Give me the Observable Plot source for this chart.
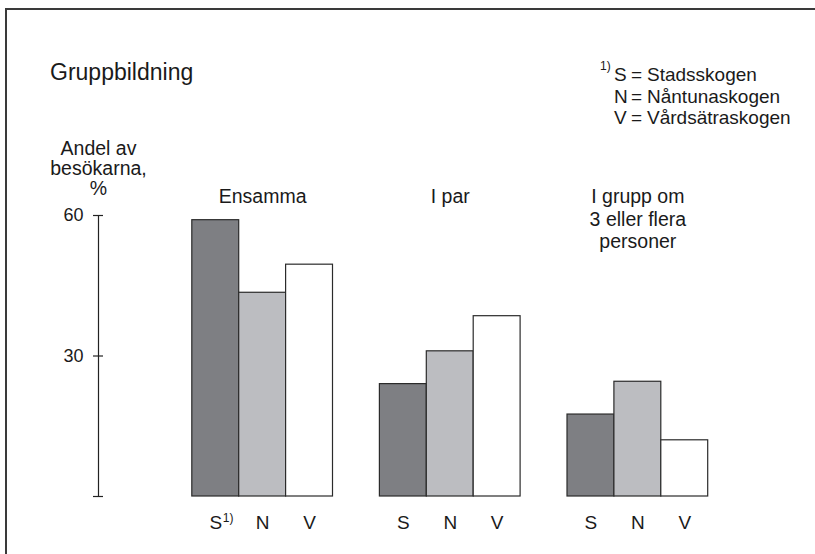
<!DOCTYPE html>
<html>
<head>
<meta charset="utf-8">
<script src="https://cdn.jsdelivr.net/npm/d3@7"></script>
<script src="https://cdn.jsdelivr.net/npm/@observablehq/plot@0.6"></script>
<style>
  html, body { margin: 0; padding: 0; background: #fff; }
  #wrap { position: relative; width: 815px; height: 554px; overflow: hidden;
          font-family: "Liberation Sans", Arial, Helvetica, sans-serif; color: #1a1a1a; }
  #border { position: absolute; left: 5px; top: 8px; right: -10px; bottom: -10px;
            border-top: 2px solid #3a3a3a; border-left: 2px solid #3a3a3a; }
  #title { position: absolute; left: 50px; top: 59px; font-size: 23px; line-height: 1.15; white-space: nowrap; }
  #legend { position: absolute; left: 600px; top: 64px; font-size: 19px; line-height: 21.7px; }
  #legend .row { display: grid; grid-template-columns: 14px 17px 16px auto; white-space: nowrap; }
  #legend .sup { font-size: 12px; position: relative; top: -8px; }
  #chart { position: absolute; left: 0; top: 0; }
</style>
</head>
<body>
<div id="wrap">
  <div id="border"></div>
  <div id="chart"></div>
  <div id="title"></div>
  <div id="legend"></div>
</div>
<script>
// ---- data ----
const titleText = "Gruppbildning";
const yLabel = "Andel av\nbesökarna,\n%";
const groups = ["Ensamma", "I par", "I grupp om\n3 eller flera\npersoner"];
const sites = ["S", "N", "V"];
const siteNames = ["Stadsskogen", "Nåntunaskogen", "Vårdsätraskogen"];
const ensamma = [59, 43.5, 49.5];
const iPar = [24, 31, 38.5];
const iGrupp = [17.5, 24.5, 12];
const yTicks = [0, 30, 60];
const yTickLabels = ["", "30", "60"];
const footnote = "1)";
const siteColors = ["#7e7f83", "#bcbdc1", "#ffffff"];

// ---- derived table ----
const seriesByGroup = [ensamma, iPar, iGrupp];
const data = groups.flatMap((g, gi) => sites.map((s, si) => ({
  key: `${gi}-${s}`, site: s, value: seriesByGroup[gi][si], color: siteColors[si]
})));
const xDomain = [];
groups.forEach((g, gi) => {
  sites.forEach(s => xDomain.push(`${gi}-${s}`));
  if (gi < groups.length - 1) xDomain.push(`gap${gi}`);
});

const W = 815, H = 554, mL = 98, mR = 13.5, mT = 215, mB = 58;
const frameW = W - mL - mR;
const font = "'Liberation Sans', Arial, Helvetica, sans-serif";

const chart = Plot.plot({
  width: W, height: H,
  marginTop: mT, marginBottom: mB, marginLeft: mL, marginRight: mR,
  style: { fontFamily: font, fontSize: "18px", color: "#1a1a1a", background: "transparent", overflow: "visible" },
  x: { type: "band", domain: xDomain, paddingInner: 0, paddingOuter: 2, round: false, axis: null },
  y: { domain: [0, 60], axis: null },
  color: { type: "identity" },
  marks: [
    Plot.frame({ anchor: "left", stroke: "#222", strokeWidth: 1.2 }),
    Plot.tickY(yTicks, { y: d => d, insetLeft: -5, insetRight: frameW - 5, stroke: "#222", strokeWidth: 1.2 }),
    Plot.axisY(yTicks, { tickSize: 0, tickPadding: 15, label: null, tickFormat: d => yTickLabels[yTicks.indexOf(d)], fontSize: 18, fill: "#1a1a1a" }),
    Plot.barY(data, { x: "key", y: "value", fill: "color", stroke: "#2b2b2b", strokeWidth: 1.2 }),
    Plot.text(groups, { x: (d, i) => `${i}-N`, text: d => d, frameAnchor: "top", lineAnchor: "top",
                        dy: -28, fontSize: 19.5, lineHeight: 1.15, fill: "#1a1a1a" }),
    Plot.text(data, { x: "key", text: "site", frameAnchor: "bottom", lineAnchor: "top", dy: 19, fontSize: 19, fill: "#1a1a1a" }),
    Plot.text(data.filter(d => d.key === "0-S"), { x: "key", text: () => footnote, frameAnchor: "bottom",
                        lineAnchor: "top", textAnchor: "start", dx: 7, dy: 17, fontSize: 12, fill: "#1a1a1a" }),
    Plot.text([yLabel], { frameAnchor: "top-left", text: d => d, textAnchor: "middle", lineAnchor: "top",
                        dy: -75.5, lineHeight: 1.05, fontSize: 19.5, fill: "#1a1a1a" })
  ]
});
document.getElementById("chart").appendChild(chart);

document.getElementById("title").textContent = titleText;
const legend = document.getElementById("legend");
sites.forEach((s, i) => {
  const row = document.createElement("div");
  row.className = "row";
  const sup = document.createElement("span");
  sup.className = "sup";
  sup.textContent = i === 0 ? footnote : "";
  const letter = document.createElement("span");
  letter.textContent = s;
  const eq = document.createElement("span");
  eq.textContent = "=";
  const name = document.createElement("span");
  name.textContent = siteNames[i];
  row.append(sup, letter, eq, name);
  legend.appendChild(row);
});
</script>
</body>
</html>
